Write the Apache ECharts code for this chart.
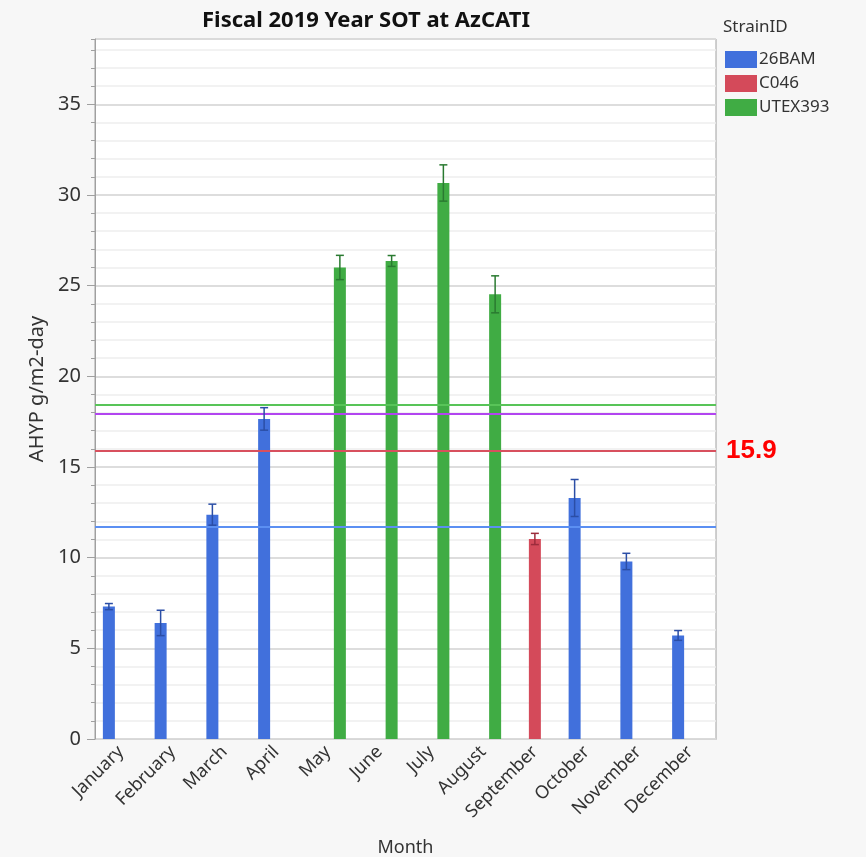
<!DOCTYPE html>
<html>
<head>
<meta charset="utf-8">
<title>Fiscal 2019 Year SOT at AzCATI</title>
<script src="https://cdn.jsdelivr.net/npm/echarts@6/dist/echarts.min.js"></script>
<style>
  html, body { margin: 0; padding: 0; background: #f7f7f7; }
  #chart { width: 866px; height: 857px; }
</style>
</head>
<body>
<div id="chart"></div>
<script>
// Monthly mean AHYP per strain, with error bar half-widths
const months = ['January', 'February', 'March', 'April', 'May', 'June',
                'July', 'August', 'September', 'October', 'November', 'December'];
const strainOfMonth = ['26BAM', '26BAM', '26BAM', '26BAM', 'UTEX393', 'UTEX393',
                       'UTEX393', 'UTEX393', 'C046', '26BAM', '26BAM', '26BAM'];
const meanValues = [7.3, 6.4, 12.37, 17.65, 26.0, 26.36, 30.66, 24.52, 11.03, 13.29, 9.79, 5.71];
const errValues = [0.17, 0.7, 0.58, 0.62, 0.67, 0.3, 1.0, 1.02, 0.31, 1.02, 0.45, 0.27];

const strains = ['26BAM', 'C046', 'UTEX393'];
const strainColors = ['#4170dc', '#d44a5a', '#40ac44'];
const errColors = ['#2b4ea6', '#9c2c3c', '#2a7a31'];

// Horizontal reference levels
const refValues = [18.45, 17.95, 15.9, 11.7];
const refColors = ['#58c458', '#b245f0', '#d8505e', '#5b8ff2'];
const refLabels = ['', '', '15.9', ''];

const yMax = 38.6;
const barW = 12;
const font = "'Noto Sans', 'Open Sans', sans-serif";

const chart = echarts.init(document.getElementById('chart'), null, { renderer: 'canvas' });

const barSeries = strains.map((s, si) => ({
  name: s,
  type: 'bar',
  yAxisIndex: 0,
  barWidth: barW,
  barGap: '0%',
  itemStyle: { color: strainColors[si] },
  data: meanValues.map((v, i) => (strainOfMonth[i] === s ? v : '-')),
  z: 3
}));

const errData = meanValues.map((v, i) => [i, v, errValues[i], strains.indexOf(strainOfMonth[i])]);

const errSeries = {
  type: 'custom',
  name: 'err',
  yAxisIndex: 0,
  z: 5,
  silent: true,
  encode: { x: 0, y: 1 },
  data: errData,
  renderItem: function (params, api) {
    const idx = api.value(0);
    const m = api.value(1);
    const e = api.value(2);
    const si = api.value(3);
    const off = (si - 1) * barW;
    const top = api.coord([idx, m + e]);
    const bot = api.coord([idx, m - e]);
    const x = top[0] + off;
    const cap = 4;
    const style = { stroke: errColors[si], lineWidth: 1.5 };
    return {
      type: 'group',
      children: [
        { type: 'line', shape: { x1: x, y1: top[1], x2: x, y2: bot[1] }, style: style },
        { type: 'line', shape: { x1: x - cap, y1: top[1], x2: x + cap, y2: top[1] }, style: style },
        { type: 'line', shape: { x1: x - cap, y1: bot[1], x2: x + cap, y2: bot[1] }, style: style }
      ]
    };
  }
};

const refSeries = {
  type: 'line',
  name: 'ref',
  yAxisIndex: 0,
  data: [],
  z: 4,
  markLine: {
    silent: true,
    symbol: 'none',
    animation: false,
    data: refValues.map((v, i) => ({
      yAxis: v,
      lineStyle: { color: refColors[i], width: 2, type: 'solid' },
      label: refLabels[i]
        ? { show: true, position: 'end', formatter: refLabels[i], color: '#ff0000',
            fontSize: 26, fontWeight: 'bold', fontFamily: "'Liberation Sans', Arial, sans-serif", distance: 10 }
        : { show: false }
    }))
  }
};

chart.setOption({
  animation: false,
  backgroundColor: '#f7f7f7',
  textStyle: { fontFamily: font },
  title: {
    text: 'Fiscal 2019 Year SOT at AzCATI',
    left: 361,
    textAlign: 'center',
    top: 5,
    textStyle: { fontSize: 22, fontWeight: 'bold', color: '#111', fontFamily: font }
  },
  legend: {
    data: strains,
    orient: 'vertical',
    left: 725,
    top: 51,
    padding: 0,
    itemWidth: 32,
    itemHeight: 17,
    itemGap: 7,
    icon: 'rect',
    selectedMode: false,
    textStyle: { fontSize: 17, color: '#333', fontFamily: font, padding: [0, 0, 0, -3] }
  },
  graphic: [{
    type: 'text',
    left: 723,
    top: 19,
    style: { text: 'StrainID', fontSize: 17, fill: '#333', fontFamily: font }
  }],
  grid: {
    left: 95, right: 150, top: 39, bottom: 118,
    outerBoundsMode: 'none',
    show: true, backgroundColor: '#ffffff', borderColor: '#a0a0a0', borderWidth: 1
  },
  xAxis: {
    type: 'category',
    data: months,
    name: 'Month',
    nameLocation: 'middle',
    nameGap: 100,
    nameTextStyle: { fontSize: 18, color: '#333' },
    axisLine: { lineStyle: { color: '#a0a0a0' } },
    axisTick: { show: false },
    axisLabel: { rotate: 45, fontSize: 18, color: '#333', margin: 10, interval: 0 }
  },
  yAxis: [
    {
      type: 'value',
      min: 0, max: yMax, interval: 5,
      position: 'left',
      name: 'AHYP g/m2-day',
      nameLocation: 'middle',
      nameGap: 46,
      nameTextStyle: { fontSize: 20, color: '#333' },
      axisLine: { show: true, lineStyle: { color: '#a0a0a0' } },
      axisTick: { show: true, length: 8, lineStyle: { color: '#a0a0a0' } },
      axisLabel: { fontSize: 20, color: '#333', margin: 14, showMaxLabel: false },
      splitLine: { show: true, lineStyle: { color: '#d6d6d6', width: 1.5 } },
      z: 2
    },
    {
      type: 'value',
      min: 0, max: yMax, interval: 1,
      position: 'left',
      offset: 0,
      axisLine: { show: false },
      axisTick: { show: true, length: 4, lineStyle: { color: '#a0a0a0' } },
      axisLabel: { show: false },
      splitLine: { show: true, lineStyle: { color: '#eeeeee', width: 1.5 } },
      z: 1
    }
  ],
  series: barSeries.concat([refSeries, errSeries])
});
</script>
</body>
</html>
